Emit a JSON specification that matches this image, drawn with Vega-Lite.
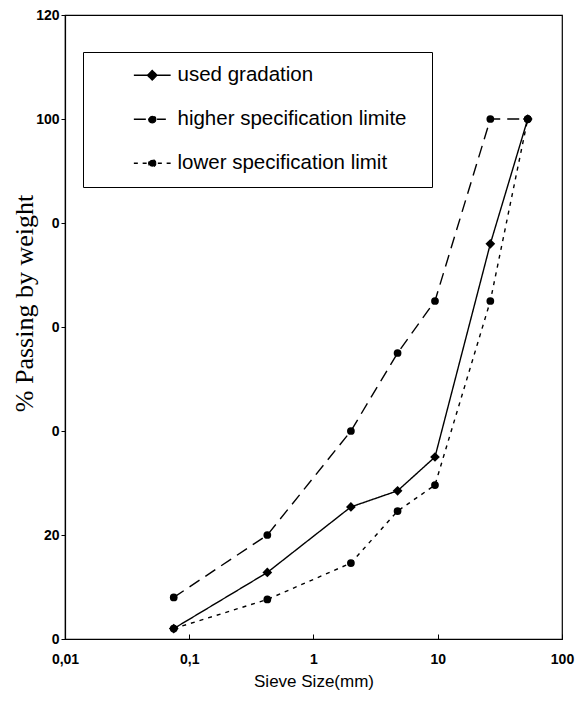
{
  "$schema": "https://vega.github.io/schema/vega-lite/v6.json",
  "width": 497,
  "height": 624,
  "autosize": {"type": "none"},
  "padding": {"left": 65, "top": 15, "right": 22, "bottom": 62},
  "background": "white",
  "config": {
    "view": {"stroke": "black", "strokeWidth": 1.2},
    "axis": {
      "grid": false,
      "domainColor": "black",
      "domainWidth": 1.2,
      "tickColor": "black",
      "labelColor": "black",
      "titleColor": "black",
      "labelFont": "Liberation Sans",
      "labelFontSize": 14,
      "labelFontWeight": "bold"
    }
  },
  "data": {
    "values": [
      {"series": "lower specification limit", "size": 0.075, "pass": 2},
      {"series": "lower specification limit", "size": 0.425, "pass": 7.6},
      {"series": "lower specification limit", "size": 2, "pass": 14.6},
      {"series": "lower specification limit", "size": 4.75, "pass": 24.6},
      {"series": "lower specification limit", "size": 9.5, "pass": 29.6},
      {"series": "lower specification limit", "size": 26.5, "pass": 65},
      {"series": "lower specification limit", "size": 53, "pass": 100},
      {"series": "higher specification limite", "size": 0.075, "pass": 8},
      {"series": "higher specification limite", "size": 0.425, "pass": 20},
      {"series": "higher specification limite", "size": 2, "pass": 40},
      {"series": "higher specification limite", "size": 4.75, "pass": 55},
      {"series": "higher specification limite", "size": 9.5, "pass": 65},
      {"series": "higher specification limite", "size": 26.5, "pass": 100},
      {"series": "higher specification limite", "size": 53, "pass": 100},
      {"series": "used gradation", "size": 0.075, "pass": 2},
      {"series": "used gradation", "size": 0.425, "pass": 12.8},
      {"series": "used gradation", "size": 2, "pass": 25.4},
      {"series": "used gradation", "size": 4.75, "pass": 28.5},
      {"series": "used gradation", "size": 9.5, "pass": 35},
      {"series": "used gradation", "size": 26.5, "pass": 76},
      {"series": "used gradation", "size": 53, "pass": 100}
    ]
  },
  "encoding": {
    "x": {
      "field": "size",
      "type": "quantitative",
      "scale": {"type": "log", "domain": [0.01, 100]},
      "axis": {
        "values": [0.01, 0.1, 1, 10, 100],
        "labelExpr": "datum.value < 0.05 ? '0,01' : datum.value < 0.5 ? '0,1' : format(datum.value, 'd')",
        "tickSize": -5,
        "labelPadding": 18,
        "labelFlush": false,
        "labelOverlap": false,
        "title": "Sieve Size(mm)",
        "titleFont": "Liberation Sans",
        "titleFontSize": 17,
        "titleFontWeight": "normal",
        "titleBaseline": "alphabetic",
        "titleY": 47
      }
    },
    "y": {
      "field": "pass",
      "type": "quantitative",
      "scale": {"domain": [0, 120]},
      "axis": {
        "values": [0, 20, 40, 60, 80, 100, 120],
        "labelExpr": "(datum.value == 40 || datum.value == 60 || datum.value == 80) ? '0' : datum.label",
        "tickSize": 4,
        "labelPadding": 2,
        "title": "% Passing by weight",
        "titleFont": "Liberation Serif",
        "titleFontSize": 26,
        "titleFontWeight": "normal",
        "titleAngle": 270,
        "titleAlign": "center",
        "titleBaseline": "alphabetic",
        "titleX": -33,
        "titleY": 288
      }
    }
  },
  "layer": [
    {
      "mark": {"type": "line", "color": "black", "strokeWidth": 1.4},
      "encoding": {
        "strokeDash": {
          "field": "series",
          "type": "nominal",
          "scale": {
            "domain": ["used gradation", "higher specification limite", "lower specification limit"],
            "range": [[1, 0], [12, 7], [4, 5]]
          },
          "legend": {
            "orient": "none",
            "legendX": 18,
            "legendY": 37,
            "title": "\u00a0",
            "titleOrient": "right",
            "titlePadding": 12,
            "titleFontSize": 20,
            "strokeColor": "black",
            "fillColor": "white",
            "padding": 13,
            "labelFont": "Liberation Sans",
            "labelFontSize": 20.5,
            "labelColor": "black",
            "labelLimit": 400,
            "rowPadding": 23,
            "symbolSize": 256,
            "symbolOffset": 46,
            "labelOffset": 15,
            "symbolFillColor": "black",
            "symbolStrokeColor": "black",
            "symbolStrokeWidth": 1.3,
            "symbolDash": [1, 0],
            "encode": {
              "symbols": {
                "update": {
                  "shape": {"signal": "datum.value == 'used gradation' ? 'M-2.3,0L2.3,0M0,-0.6L0.6,0L0,0.6L-0.6,0Z' : datum.value == 'higher specification limite' ? 'M-2.3,0L-0.6,0M0.6,0L1.7,0M0.45,0L0.39,0.225L0.225,0.39L0,0.45L-0.225,0.39L-0.39,0.225L-0.45,0L-0.39,-0.225L-0.225,-0.39L0,-0.45L0.225,-0.39L0.39,-0.225Z' : 'M-2.3,0L-1.7,0M-1.2,0L-0.7,0M0.7,0L1.3,0M1.8,0L2.3,0M0.45,0L0.39,0.225L0.225,0.39L0,0.45L-0.225,0.39L-0.39,0.225L-0.45,0L-0.39,-0.225L-0.225,-0.39L0,-0.45L0.225,-0.39L0.39,-0.225Z'"},
                  "fill": {"value": "black"},
                  "stroke": {"value": "black"},
                  "strokeDash": {"value": [1, 0]},
                  "strokeWidth": {"value": 1.3},
                  "size": {"value": 256},
                  "opacity": {"value": 1}
                }
              }
            }
          }
        }
      }
    },
    {
      "transform": [{"filter": "datum.series == 'lower specification limit'"}],
      "mark": {"type": "point", "shape": "circle", "filled": true, "size": 60, "color": "black", "opacity": 1}
    },
    {
      "transform": [{"filter": "datum.series == 'higher specification limite'"}],
      "mark": {"type": "point", "shape": "circle", "filled": true, "size": 60, "color": "black", "opacity": 1}
    },
    {
      "transform": [{"filter": "datum.series == 'used gradation'"}],
      "mark": {"type": "point", "shape": "diamond", "filled": true, "size": 95, "color": "black", "opacity": 1}
    }
  ]
}
